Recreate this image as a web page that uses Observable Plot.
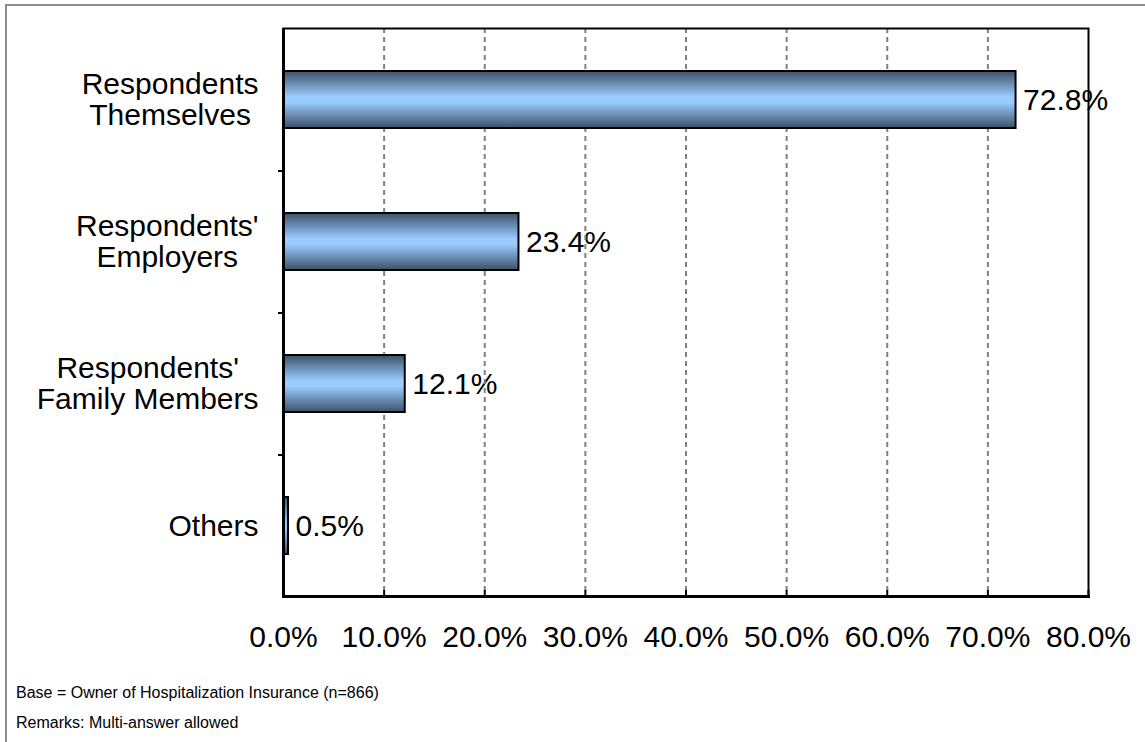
<!DOCTYPE html>
<html>
<head>
<meta charset="utf-8">
<script src="https://cdn.jsdelivr.net/npm/d3@7"></script>
<script src="https://cdn.jsdelivr.net/npm/@observablehq/plot@0.6"></script>
<style>
  html, body { margin: 0; padding: 0; background: #fff; overflow: hidden; }
  body { width: 1145px; height: 742px; position: relative; font-family: "Liberation Sans", Arial, sans-serif; }
  #border { position: absolute; left: 5px; top: 4px; width: 1300px; height: 900px; border: 2px solid #8c8c8c; box-sizing: border-box; }
  #chart { position: absolute; left: 0; top: 0; }
  .foot { position: absolute; left: 16px; font-size: 16px; color: #000; white-space: nowrap; line-height: 20px; }
</style>
</head>
<body>
<div id="border"></div>
<div id="chart"></div>
<div class="foot" id="f1" style="top:683px"></div>
<div class="foot" id="f2" style="top:713px"></div>
<script>
// Data
const categories = ["Respondents Themselves", "Respondents' Employers", "Respondents' Family Members", "Others"];
const categoryLabels = ["Respondents\nThemselves", "Respondents'\nEmployers", "Respondents'\nFamily Members", "Others"];
const values = [72.8, 23.4, 12.1, 0.5];
const xTicks = [0, 10, 20, 30, 40, 50, 60, 70, 80];
const gridTicks = [10, 20, 30, 40, 50, 60, 70];
const footnotes = ["Base = Owner of Hospitalization Insurance (n=866)", "Remarks: Multi-answer allowed"];

const data = categories.map((c, i) => ({cat: c, label: categoryLabels[i], value: values[i]}));
const fmt = v => v.toFixed(1) + "%";

const FONT_SIZE = 30;
const LINE_PX = 31;
const ctx = document.createElement("canvas").getContext("2d");
ctx.font = `${FONT_SIZE}px 'Liberation Sans', Arial, sans-serif`;

// one text mark per label line: lines centred within a right-aligned block
const labelMarks = [];
data.forEach(d => {
  const lines = d.label.split("\n");
  const widths = lines.map(l => ctx.measureText(l).width);
  const blockW = Math.max(...widths);
  lines.forEach((line, j) => {
    labelMarks.push(Plot.text([d], {
      y: "cat", text: () => line, frameAnchor: "left",
      dx: -25 - (blockW - widths[j]) / 2,
      dy: (j - (lines.length - 1) / 2) * LINE_PX,
      textAnchor: "end", fontSize: FONT_SIZE, fill: "#000"
    }));
  });
});

const plot = Plot.plot({
  width: 1145,
  height: 665,
  marginLeft: 283,
  marginRight: 57,
  marginTop: 28,
  marginBottom: 69,
  style: {fontFamily: "'Liberation Sans', Arial, sans-serif", fontSize: "30px", color: "#000", background: "transparent"},
  x: {domain: [0, 80], ticks: xTicks, tickFormat: fmt, label: null},
  y: {domain: categories, paddingInner: 0.6, paddingOuter: 0.3, axis: null, label: null},
  marks: [
    ...labelMarks,
    // value labels
    Plot.text(data, {x: "value", y: "cat", text: d => fmt(d.value), dx: 7, textAnchor: "start", fontSize: FONT_SIZE, fill: "#000"}),
    // dashed grid
    Plot.ruleX(gridTicks, {stroke: "#808080", strokeWidth: 2, strokeDasharray: "5,4"}),
    // bars
    Plot.barX(data, {x: "value", y: "cat", fill: "url(#barGrad)", stroke: "#000", strokeWidth: 2}),
    // x axis labels
    Plot.axisX(xTicks, {tickSize: 0, tickPadding: 29, tickFormat: fmt, fontSize: FONT_SIZE, label: null}),
    // inner bottom ticks
    Plot.tickX(xTicks, {x: d => d, insetTop: 562, stroke: "#000", strokeWidth: 2}),
    // left ticks at band boundaries
    Plot.ruleY(categories.slice(0, 3), {y: d => d, x1: -0.5, x2: 0, dy: 71, stroke: "#000", strokeWidth: 2}),
    // frame
    Plot.frame({stroke: "#000", strokeWidth: 2}),
    Plot.frame({anchor: "bottom", stroke: "#000", strokeWidth: 3}),
    Plot.ruleX([0], {stroke: "#000", strokeWidth: 3})
  ]
});

// gradient definition
const svg = plot.tagName.toLowerCase() === "svg" ? plot : plot.querySelector("svg");
const ns = "http://www.w3.org/2000/svg";
const defs = document.createElementNS(ns, "defs");
const grad = document.createElementNS(ns, "linearGradient");
grad.setAttribute("id", "barGrad");
grad.setAttribute("x1", "0"); grad.setAttribute("y1", "0");
grad.setAttribute("x2", "0"); grad.setAttribute("y2", "1");
[["0", "#3d5068"], ["0.45", "#99ccff"], ["0.55", "#99ccff"], ["1", "#3d5068"]].forEach(([o, c]) => {
  const s = document.createElementNS(ns, "stop");
  s.setAttribute("offset", o); s.setAttribute("stop-color", c);
  grad.appendChild(s);
});
defs.appendChild(grad);
svg.insertBefore(defs, svg.firstChild);

document.getElementById("chart").appendChild(plot);
document.getElementById("f1").textContent = footnotes[0];
document.getElementById("f2").textContent = footnotes[1];
</script>
</body>
</html>
